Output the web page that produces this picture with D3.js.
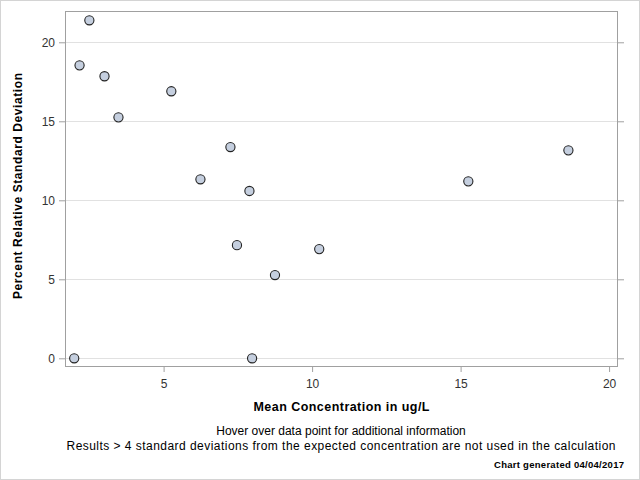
<!DOCTYPE html>
<html><head><meta charset="utf-8">
<script src="https://cdn.jsdelivr.net/npm/d3@7"></script>
<style>body{margin:0;background:#fff}svg{display:block;font-family:Arial,"Liberation Sans",sans-serif}</style>
</head><body><svg id="c" width="640" height="480"></svg>
<script>
const meanConc = [2.50, 2.17, 3.01, 3.48, 5.26, 7.25, 6.24, 7.89, 7.47, 10.24, 8.75, 1.99, 7.98, 15.26, 18.63];
const pctRSD   = [21.39, 18.54, 17.85, 15.25, 16.90, 13.37, 11.33, 10.59, 7.16, 6.91, 5.27, 0.0, 0.0, 11.20, 13.16];
const xTicks = [5, 10, 15, 20];
const yTicks = [0, 5, 10, 15, 20];
const xLabel = "Mean Concentration in ug/L";
const yLabel = "Percent Relative Standard Deviation";
const notes = ["Hover over data point for additional information",
  "Results > 4 standard deviations from the expected concentration are not used in the calculation"];
const footer = "Chart generated 04/04/2017";

const svg = d3.select("#c");
const L = 65, T = 11, R = 618, B = 367;
const x = d3.scaleLinear().domain([1.68, 20.3]).range([L, R]);
const y = d3.scaleLinear().domain([-0.55, 21.98]).range([B, T]);

svg.append("rect").attr("x",0.5).attr("y",0.5).attr("width",639).attr("height",479)
  .attr("fill","#fff").attr("stroke","#d4d4d4");

// gridlines
svg.append("g").selectAll("line").data(yTicks).join("line")
  .attr("x1",L).attr("x2",R).attr("y1",d=>Math.round(y(d))+0.5).attr("y2",d=>Math.round(y(d))+0.5)
  .attr("stroke","#e1e1e1");

// frame
svg.append("rect").attr("x",L+0.5).attr("y",T+0.5).attr("width",R-L-1).attr("height",B-T-1)
  .attr("fill","none").attr("stroke","#a0a0a0");

function styleAxis(g){
  g.select(".domain").remove();
  g.selectAll(".tick line").attr("stroke","#a0a0a0");
  g.selectAll(".tick text").attr("fill","#333").style("font-size","12px").style("font-family","Arial, 'Liberation Sans', sans-serif");
}
svg.append("g").attr("transform",`translate(0,${B})`)
  .call(d3.axisBottom(x).tickValues(xTicks).tickSize(5).tickPadding(7).tickFormat(d3.format("d")))
  .call(styleAxis);
svg.append("g").attr("transform",`translate(${L},0)`)
  .call(d3.axisLeft(y).tickValues(yTicks).tickSize(6).tickPadding(4).tickFormat(d3.format("d")))
  .call(styleAxis);
svg.append("g").attr("transform",`translate(${R},0)`)
  .call(d3.axisRight(y).tickValues(yTicks).tickSize(6).tickFormat(""))
  .call(styleAxis);

// points
svg.append("g").selectAll("circle").data(meanConc.map((v,i)=>[v,pctRSD[i]])).join("circle")
  .attr("cx",d=>x(d[0])).attr("cy",d=>y(d[1])).attr("r",4.6)
  .attr("fill","#c5cfdf").attr("stroke","#222").attr("stroke-width",1.1);

// labels
svg.append("text").attr("x",(L+R)/2).attr("y",411).attr("text-anchor","middle")
  .attr("font-weight","bold").attr("font-size","12.5px").attr("fill","#000")
  .attr("textLength",176).attr("lengthAdjust","spacing").text(xLabel);
svg.append("text").attr("transform",`translate(22,186) rotate(-90)`).attr("text-anchor","middle")
  .attr("font-weight","bold").attr("font-size","12px").attr("fill","#000")
  .attr("textLength",226).attr("lengthAdjust","spacing").text(yLabel);
svg.append("text").attr("x",341).attr("y",435).attr("text-anchor","middle")
  .attr("font-size","12px").attr("fill","#000").text(notes[0]);
svg.append("text").attr("x",341).attr("y",450).attr("text-anchor","middle")
  .attr("font-size","12px").attr("fill","#000").attr("textLength",549).attr("lengthAdjust","spacing").text(notes[1]);
svg.append("text").attr("x",624).attr("y",468).attr("text-anchor","end")
  .attr("font-size","9.5px").attr("font-weight","bold").attr("fill","#000")
  .attr("textLength",130).attr("lengthAdjust","spacing").text(footer);
</script></body></html>
